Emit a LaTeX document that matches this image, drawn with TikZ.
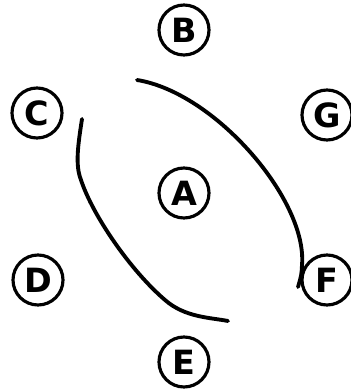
\documentclass[tikz,border=0pt]{standalone}
\usepackage{fontspec}
\setsansfont{DejaVu Sans}
\usetikzlibrary{positioning}

\begin{document}
\begin{tikzpicture}[font=\sffamily\bfseries\fontsize{19}{19}\selectfont,
	vtx/.style={circle, draw=black, line width=1.8pt, minimum size=10mm, inner sep=0pt},
	arc/.style={line width=2.2pt, line cap=round, line join=round}]

	\useasboundingbox (0,0) rectangle (7,7.8);

	% ---------- vertices ----------
	\node[vtx] (B) at (3.68,7.2)  {B};
	\node[vtx] (C) at (0.74,5.54) {C};
	\node[vtx] (G) at (6.54,5.5)  {G};
	\node[vtx] (A) at (3.68,3.94) {A};
	\node[vtx] (D) at (0.76,2.2)  {D};
	\node[vtx] (F) at (6.54,2.2)  {F};
	\node[vtx] (E) at (3.68,0.56) {E};

	% ---------- arcs ----------
	\draw[arc] (2.74,6.2) .. controls (4.3,5.95) and (6.15,3.8) .. (6.04,2.5)
		.. controls (6.03,2.3) .. (5.96,2.06);
	\draw[arc] (1.64,5.42) .. controls (1.56,4.9) and (1.5,4.5) .. (1.62,4.2)
		.. controls (1.85,3.5) and (2.6,2.4) .. (3.3,1.8)
		.. controls (3.7,1.45) and (4.2,1.45) .. (4.56,1.38);
\end{tikzpicture}
\end{document}
